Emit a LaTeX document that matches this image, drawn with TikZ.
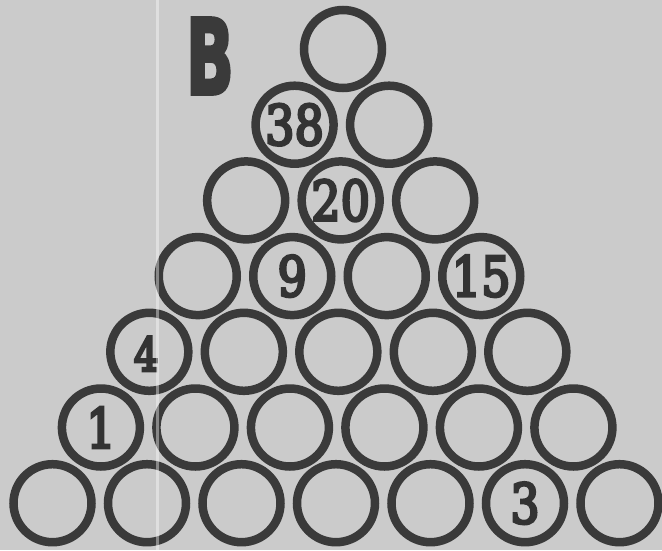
\documentclass[tikz,border=0pt]{standalone}
\usepackage{fontspec}
\newfontfamily\numfont{DejaVu Serif}
\newfontfamily\letfont{DejaVu Sans}
\definecolor{bg}{HTML}{CBCBCB}
\definecolor{ink}{HTML}{3A3A3A}
\definecolor{numink}{HTML}{333333}
\newcommand\heavytext[2]{\special{pdf:literal direct 2 Tr #1 w}#2\special{pdf:literal direct 0 Tr}}
\newcommand\numlabel[1]{\color{numink}\heavytext{3}{#1}}
\begin{document}
\begin{tikzpicture}[x=1pt,y=-1pt,
  ball/.style={circle, draw=ink, line width=8.5pt, minimum size=78pt, inner sep=0pt},
  numtext/.style={font=\numfont\fontsize{55}{55}\selectfont, text=numink, inner sep=0pt, xscale=0.84},
  bigletter/.style={font=\letfont\bfseries\fontsize{104}{104}\selectfont, text=ink, inner sep=0pt, xscale=0.6}]
\fill[bg] (0,0) rectangle (662,550);
\useasboundingbox (0,0) rectangle (662,550);
\foreach \r in {1,...,7}{
  \foreach \i in {1,...,\r}{
    \pgfmathsetmacro{\yy}{49+(\r-1)*75.7}
    \pgfmathsetmacro{\xx}{343-(\r-1)*7/6+(\i-1-(\r-1)/2)*94.5}
    \node[ball] (c-\r-\i) at (\xx,\yy) {};
  }
}
\node[numtext] (n38) at (c-2-1) {\numlabel{38}};
\node[numtext] (n20) at (c-3-2) {\numlabel{20}};
\node[numtext] (n9) at (c-4-2) {\numlabel{9}};
\node[numtext] (n15) at (c-4-4) {\numlabel{15}};
\node[numtext, font=\numfont\fontsize{46}{46}\selectfont] (n4) at ([xshift=-3pt,yshift=-2pt]c-5-1) {\numlabel{4}};
\node[numtext] (n1) at (c-6-1) {\numlabel{1}};
\node[numtext] (n3) at (c-7-6) {\numlabel{3}};
\node[bigletter] (B) at (210,56) {\color{ink}\heavytext{4}{B}};
\fill[white, opacity=0.4] (155.5,0) rectangle (158.5,550);
\end{tikzpicture}
\end{document}
